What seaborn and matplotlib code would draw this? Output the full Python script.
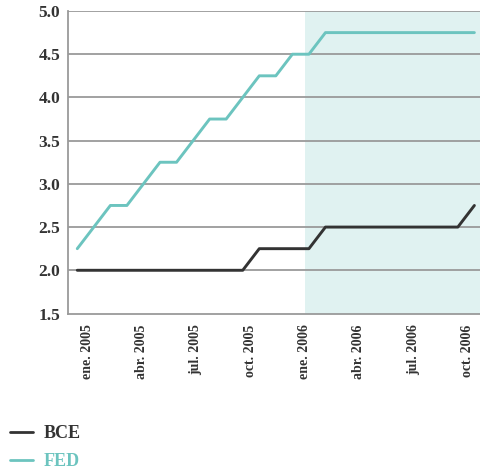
import numpy as np
import pandas as pd
import matplotlib
matplotlib.use("Agg")
import matplotlib.pyplot as plt
from matplotlib.lines import Line2D
import seaborn as sns

# Monthly policy rates (%), one value per month
bce = [2.0, 2.0, 2.0, 2.0, 2.0, 2.0, 2.0, 2.0, 2.0, 2.0, 2.0,
       2.25, 2.25, 2.25, 2.25,
       2.5, 2.5, 2.5, 2.5, 2.5, 2.5, 2.5, 2.5, 2.5,
       2.75]
fed = [2.25, 2.5, 2.75, 2.75, 3.0, 3.25, 3.25, 3.5, 3.75, 3.75, 4.0,
       4.25, 4.25, 4.5, 4.5,
       4.75, 4.75, 4.75, 4.75, 4.75, 4.75, 4.75, 4.75, 4.75, 4.75]
tick_labels = ["ene. 2005", "abr. 2005", "jul. 2005", "oct. 2005",
               "ene. 2006", "abr. 2006", "jul. 2006", "oct. 2006"]
series_names = ["BCE", "FED"]

months = np.arange(len(bce))
df = pd.DataFrame({
    "mes": np.concatenate([months, months]),
    "tasa": np.concatenate([bce, fed]),
    "serie": [series_names[0]] * len(bce) + [series_names[1]] * len(fed),
})

sns.set_theme(style="white")
plt.rcParams["font.family"] = ["Liberation Serif", "DejaVu Serif"]

DARK = "#333333"
TEAL = "#6cc4bf"
GRID = "#9a9a9a"
SHADE = "#e0f2f1"

W, H = 481, 470
fig = plt.figure(figsize=(W / 100, H / 100), dpi=100)
left, right, top, bottom = 68, 481, 11, 313.5
ax = fig.add_axes([left / W, 1 - bottom / H, (right - left) / W, (bottom - top) / H])

tick_pos = np.linspace(0.62, 23.58, len(tick_labels))

# forecast region shading
ax.axvspan(tick_pos[4], 30, color=SHADE, lw=0, zorder=0)

for v in np.arange(2.0, 5.01, 0.5):
    ax.axhline(v, color=GRID, lw=1.3, zorder=1)

sns.lineplot(data=df, x="mes", y="tasa", hue="serie",
             palette={"BCE": DARK, "FED": TEAL}, lw=2.1, ax=ax,
             legend=False, zorder=3)

ax.set_xlim(-0.56, 24.4)
ax.set_ylim(1.5, 5.0)
ax.set_xlabel("")
ax.set_ylabel("")

ax.set_yticks(np.arange(1.5, 5.01, 0.5))
ax.set_yticklabels([f"{v:.1f}" for v in np.arange(1.5, 5.01, 0.5)],
                   fontsize=12.5, fontweight="bold", color=DARK)
ax.set_xticks(tick_pos)
ax.set_xticklabels(tick_labels, rotation=90, fontsize=10,
                   fontweight="bold", color=DARK)
ax.tick_params(axis="both", length=0)
ax.tick_params(axis="y", pad=5.5)
ax.tick_params(axis="x", pad=8)

for s in ["top", "right"]:
    ax.spines[s].set_visible(False)
for s in ["left", "bottom"]:
    ax.spines[s].set_color(GRID)
    ax.spines[s].set_linewidth(1.3)

# legend below the chart
handles = [Line2D([0], [0], color=DARK, lw=2),
           Line2D([0], [0], color=TEAL, lw=2)]
leg = fig.legend(handles, series_names, loc="upper left",
                 bbox_to_anchor=(10 / W, 1 - 425 / H), frameon=False,
                 borderpad=0, borderaxespad=0,
                 handlelength=1.3, handletextpad=0.55, labelspacing=0.62,
                 prop={"size": 13, "weight": "bold"},
                 labelcolor=[DARK, TEAL])

fig.savefig("out.png", dpi=100)
